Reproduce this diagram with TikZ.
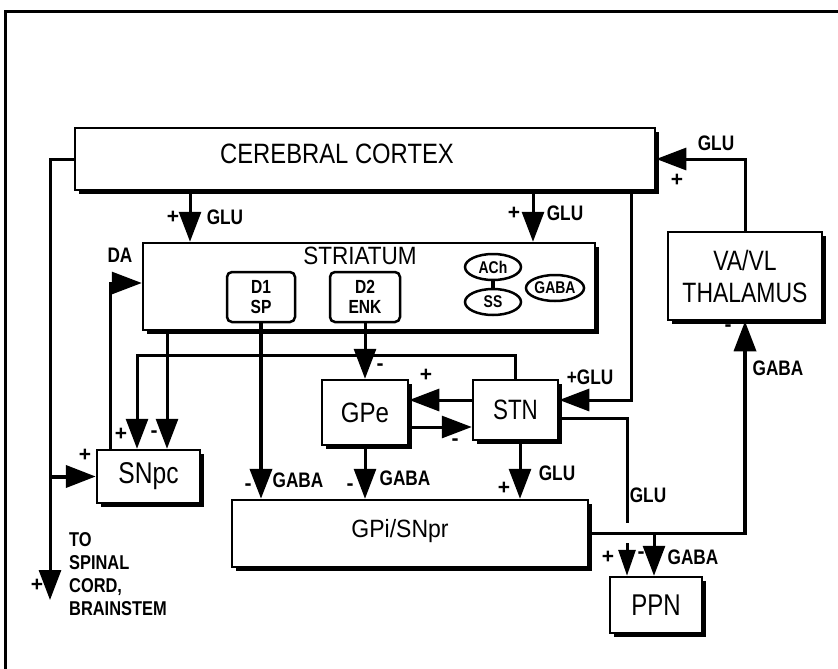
\documentclass[tikz,border=0pt]{standalone}
\usepackage{fontspec}
\setmainfont{Liberation Sans}
\usetikzlibrary{arrows.meta,shadows,shapes.geometric}
\newcommand{\cnd}[2][0.82]{\scalebox{#1}[1]{#2}}
\begin{document}
\begin{tikzpicture}[x=1pt,y=-1pt,
  box/.style={draw, line width=2.5pt, fill=white, inner sep=0pt,
    drop shadow={shadow xshift=4pt, shadow yshift=-4pt, opacity=1, fill=black}},
  rbox/.style={draw, line width=2.5pt, rounded corners=5pt, fill=white, inner sep=0pt,
    align=center, font=\bfseries\fontsize{19}{20}\selectfont},
  ell/.style={draw, ellipse, line width=2.5pt, fill=white, inner sep=0pt,
    minimum width=56pt, minimum height=26pt, font=\bfseries\fontsize{17}{17}\selectfont},
  conn/.style={line width=3pt, -{Triangle[length=30pt,width=22pt]}},
  big/.style={font=\fontsize{28}{32}\selectfont, align=center, inner sep=0pt},
  lbl/.style={font=\bfseries\fontsize{21}{21}\selectfont, inner sep=0pt},
  sgn/.style={font=\bfseries\fontsize{21}{21}\selectfont, inner sep=0pt}]
\useasboundingbox (0,0) rectangle (838,669);
\fill[white] (0,0) rectangle (838,669);
% frame
\draw[line width=3pt] (5,669) -- (5,12) -- (838,12);
% boxes
\node[box, minimum width=580pt, minimum height=62pt] (cortex) at (365,159) {};
\node[big] (cortext) at (337,154) {\cnd[0.85]{CEREBRAL CORTEX}};
\node[box, minimum width=452pt, minimum height=87pt] (str) at (369,286.5) {};
\node[big, font=\fontsize{25}{25}\selectfont] (strtext) at (360,256) {\cnd[0.9]{STRIATUM}};
\node[rbox, minimum width=68pt, minimum height=50pt] (d1) at (261,297) {\cnd{D1}\\\cnd{SP}};
\node[rbox, minimum width=70pt, minimum height=50pt] (d2) at (365,297) {\cnd{D2}\\\cnd{ENK}};
\node[ell] (ach) at (493,267) {\cnd{ACh}};
\node[ell] (ss) at (493,302) {\cnd{SS}};
\node[ell] (gaba) at (555,288) {\cnd{GABA}};
\draw[line width=4pt] (ach.south) -- (ss.north);
\node[box, big, font=\fontsize{30}{30}\selectfont, minimum width=103pt, minimum height=53pt] (snpc) at (148.5,476.5) {\cnd[0.82]{SNpc}};
\node[box, big, minimum width=86pt, minimum height=65pt] (gpe) at (365,412.5) {\cnd[0.86]{GPe}};
\node[box, big, minimum width=85pt, minimum height=60pt] (stn) at (515.5,410) {\cnd[0.8]{STN}};
\node[box, minimum width=356pt, minimum height=67pt] (gpi) at (410,533.5) {};
\node[big, font=\fontsize{25}{25}\selectfont] (gpitext) at (400,531) {\cnd[0.92]{GPi/SNpr}};
\node[box, big, font=\fontsize{30}{30}\selectfont, minimum width=92pt, minimum height=56pt] (ppn) at (656,605) {\cnd[0.8]{PPN}};
\node[box, big, minimum width=154pt, minimum height=88pt] (thal) at (745,276) {\cnd{VA/VL}\\\cnd{THALAMUS}};
% named free ends
\coordinate (sp) at (50,600);
\coordinate (br) at (50,476.5);
\coordinate (jn) at (654,533.5);
% connectors
\draw[conn] (190,0 |- cortex.south) -- (190,0 |- str.north);
\draw[conn] (533,0 |- cortex.south) -- (533,0 |- str.north);
\draw[conn] (cortex.west) -| (sp);
\draw[conn, line width=4pt] (br) -- (snpc.west);
\draw[conn] (110,0 |- snpc.north) |- (str.west |- 0,283);
\draw[conn] (167,0 |- str.south) -- (167,0 |- snpc.north);
\draw[conn] (stn.north) |- (137,355) -- (137,0 |- snpc.north);
\draw[conn, line width=4pt] (d1.south) -- (d1.south |- gpi.north);
\draw[conn] (d2.south) -- (d2.south |- gpe.north);
\draw[conn] (stn.west |- 0,400) -- (gpe.east |- 0,400);
\draw[conn] (gpe.east |- 0,427) -- (stn.west |- 0,427);
\draw[conn] (gpe.south) -- (gpe.south |- gpi.north);
\draw[conn] (520,0 |- stn.south) -- (520,0 |- gpi.north);
\draw[conn] (631,0 |- cortex.south) |- (stn.east |- 0,400);
\draw[conn, -{Triangle[length=26pt,width=17pt]}] (stn.east |- 0,418) -| (627,0 |- ppn.north);
\fill[white] (620,523) rectangle (634,543);
\draw[conn, line width=3.5pt] (gpi.east) -| (thal.south);
\draw[conn] (jn) -- (654,0 |- ppn.north);
\draw[conn] (thal.north) |- (cortex.east);
% labels
\node[sgn] at (173,217) {+};
\node[lbl] at (225,217) {\cnd{GLU}};
\node[sgn] at (514,213) {+};
\node[lbl] at (565,213) {\cnd{GLU}};
\node[lbl] at (120,255) {\cnd{DA}};
\node[sgn] at (37,585) {+};
\node[lbl, anchor=north west, align=left, font=\bfseries\fontsize{20}{23}\selectfont] at (69,532) {\cnd{TO}\\\cnd{SPINAL}\\\cnd{CORD,}\\\cnd{BRAINSTEM}};
\node[sgn] at (85,455) {+};
\node[sgn] at (121,434) {+};
\node[sgn] at (154,434) {-};
\node[sgn] at (248,487) {-};
\node[lbl] at (298,480) {\cnd{GABA}};
\node[sgn] at (380,367) {-};
\node[sgn] at (426,375) {+};
\node[sgn] at (455,442) {-};
\node[sgn] at (350,487) {-};
\node[lbl] at (405,478) {\cnd{GABA}};
\node[sgn] at (504,488) {+};
\node[lbl] at (557,473) {\cnd{GLU}};
\node[lbl] at (590,377) {\cnd{+GLU}};
\node[lbl] at (648,495) {\cnd{GLU}};
\node[sgn] at (608,557) {+};
\node[sgn] at (641,555) {-};
\node[lbl] at (693,557) {\cnd{GABA}};
\node[lbl] at (778,368) {\cnd{GABA}};
\node[sgn] at (728,328) {-};
\node[lbl] at (716,143) {\cnd{GLU}};
\node[sgn] at (677,180) {+};
\end{tikzpicture}
\end{document}
